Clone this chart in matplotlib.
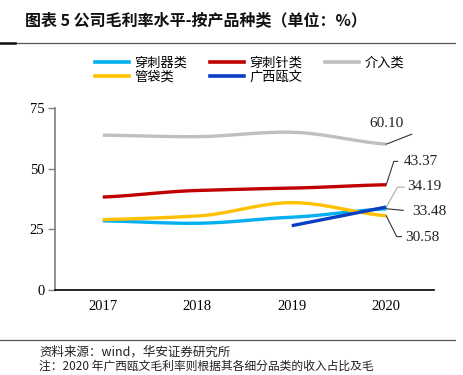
import numpy as np
import matplotlib
matplotlib.use("Agg")
import matplotlib.pyplot as plt
from matplotlib.lines import Line2D

plt.rcParams['font.family'] = ['Noto Sans CJK SC', 'DejaVu Sans']

years = ['2017', '2018', '2019', '2020']
chuanciqi = [28.5, 27.5, 30.0, 33.48]    # 穿刺器类
chuancizhen = [38.3, 41.0, 42.0, 43.37]  # 穿刺针类
jieru = [63.8, 63.2, 65.0, 60.10]        # 介入类
guandai = [29.0, 30.5, 36.0, 30.58]      # 管袋类
guangxi = [None, None, 26.5, 34.19]      # 广西瓯文

series = [
    ('穿刺器类', chuanciqi, '#00B0F0'),
    ('穿刺针类', chuancizhen, '#C00000'),
    ('介入类', jieru, '#BFBFBF'),
    ('管袋类', guandai, '#FFC000'),
    ('广西瓯文', guangxi, '#0A3FC2'),
]


def smooth(xs, ys, n=40):
    xs = np.asarray(xs, float)
    ys = np.asarray(ys, float)
    if len(xs) < 3:
        t = np.linspace(xs[0], xs[-1], n)
        return t, np.interp(t, xs, ys)
    m = np.zeros_like(ys)
    m[0] = ys[1] - ys[0]
    m[-1] = ys[-1] - ys[-2]
    m[1:-1] = (ys[2:] - ys[:-2]) / 2
    m *= 0.6
    ox, oy = [], []
    for i in range(len(xs) - 1):
        t = np.linspace(0, 1, n)
        h00 = 2 * t**3 - 3 * t**2 + 1
        h10 = t**3 - 2 * t**2 + t
        h01 = -2 * t**3 + 3 * t**2
        h11 = t**3 - t**2
        ox.append(xs[i] + t)
        oy.append(h00 * ys[i] + h10 * m[i] + h01 * ys[i + 1] + h11 * m[i + 1])
    return np.concatenate(ox), np.concatenate(oy)


fig = plt.figure(figsize=(4.64, 3.75), dpi=100)
ax = fig.add_axes([0.1196, 0.2267, 0.8147, 0.4853])

handles = []
for name, vals, col in series:
    xs = [i for i, v in enumerate(vals) if v is not None]
    ys = [v for v in vals if v is not None]
    sx, sy = smooth(xs, ys)
    ax.plot(sx, sy, color=col, lw=2.4, solid_capstyle='butt')
    handles.append(Line2D([0], [0], color=col, lw=2.6))

ax.set_xlim(-0.5, 3.5)
ax.set_ylim(0, 75)
ax.set_yticks([0, 25, 50, 75])
ax.set_xticks(range(4))
ax.set_xticklabels(years)
for lab in ax.get_xticklabels() + ax.get_yticklabels():
    lab.set_fontfamily('Liberation Serif')
    lab.set_fontsize(10.5)
ax.tick_params(axis='x', length=0, pad=7)
ax.tick_params(axis='y', length=5, color='#808080', width=1, pad=3)
ax.spines['top'].set_visible(False)
ax.spines['right'].set_visible(False)
ax.spines['left'].set_color('#808080')
ax.spines['left'].set_linewidth(1.2)
ax.spines['bottom'].set_color('black')
ax.spines['bottom'].set_linewidth(1.2)

# end labels with leader lines
labfont = dict(fontfamily='Liberation Serif', fontsize=11, color='#222222')
def leader(y_end, pts, text, txy, lc='#333333'):
    xs = [3] + [p[0] for p in pts]
    ys = [y_end] + [p[1] for p in pts]
    ax.plot(xs, ys, color=lc, lw=0.8, clip_on=False)
    ax.text(txy[0], txy[1], text, va='center', ha='left', **labfont)

leader(jieru[3], [(3.27, 64.2)], f'{jieru[3]:.2f}', (2.82, 68.5))
leader(chuancizhen[3], [(3.08, 53.0), (3.12, 53.0)], f'{chuancizhen[3]:.2f}', (3.19, 52.8))
leader(guangxi[3], [(3.12, 42.4), (3.19, 42.4)], f'{guangxi[3]:.2f}', (3.22, 42.5), lc='#AAAAAA')
leader(chuanciqi[3], [(3.18, 32.8)], f'{chuanciqi[3]:.2f}', (3.27, 32.3))
leader(guandai[3], [(3.11, 22.0), (3.16, 22.0)], f'{guandai[3]:.2f}', (3.2, 21.8))

leg = fig.legend(handles=[handles[0], handles[3], handles[1], handles[4], handles[2]],
                 labels=['穿刺器类', '管袋类', '穿刺针类', '广西瓯文', '介入类'],
                 ncol=3, loc='upper left', bbox_to_anchor=(0.19, 0.866),
                 frameon=False, fontsize=9.5, handlelength=2.6, handletextpad=0.4,
                 columnspacing=1.7, labelspacing=0.05, borderpad=0)

# title and decorations
fig.text(0.054, 0.945, '图表 5 公司毛利率水平-按产品种类（单位：%）', fontsize=11.5,
         fontweight='bold', va='center', ha='left', color='#111111')
fig.add_artist(Line2D([0.0, 0.98], [0.885, 0.885], color='#555555', lw=0.9))
fig.add_artist(Line2D([0.0, 0.032], [0.885, 0.885], color='#111111', lw=1.8))
fig.add_artist(Line2D([0.0, 0.98], [0.093, 0.093], color='#555555', lw=0.9))
fig.text(0.085, 0.06, '资料来源：wind，华安证券研究所', fontsize=9, va='center', ha='left',
         color='#222222')
fig.text(0.085, 0.022, '注：2020 年广西瓯文毛利率则根据其各细分品类的收入占比及毛', fontsize=8.5,
         va='center', ha='left', color='#222222')

fig.savefig('out.png', dpi=100)
